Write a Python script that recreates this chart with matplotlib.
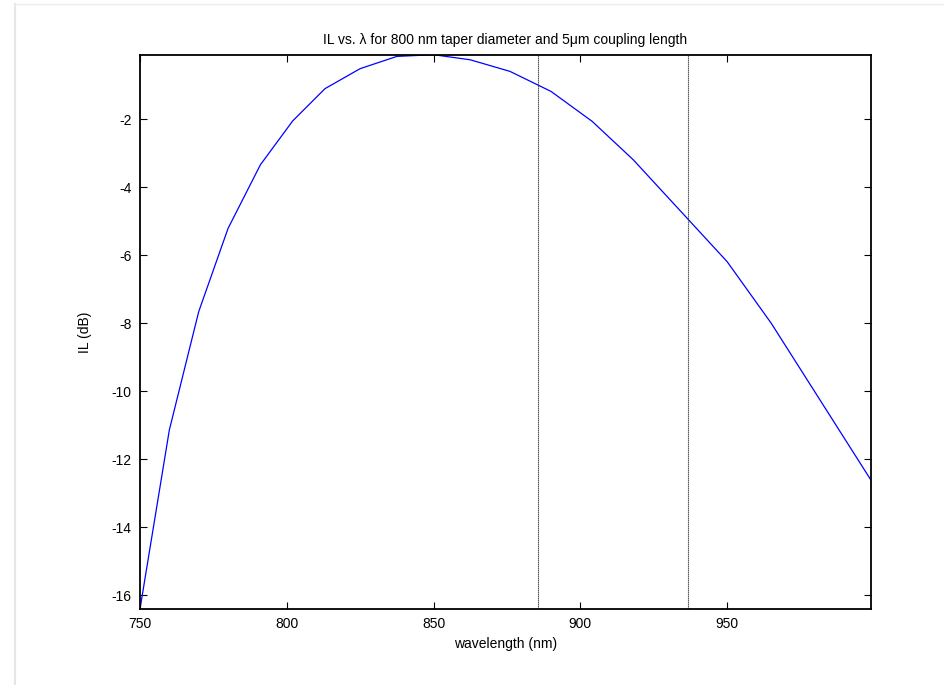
import matplotlib
matplotlib.use("Agg")
import matplotlib.pyplot as plt
from matplotlib.lines import Line2D

# Data
wavelength = [750, 760, 770, 780, 791, 802, 813, 825, 837.5, 850, 862.5,
              876, 890, 904, 918, 934, 950, 965, 982, 999]
il_db = [-16.41, -11.14, -7.66, -5.21, -3.34, -2.05, -1.10, -0.51, -0.15,
         -0.10, -0.25, -0.59, -1.18, -2.06, -3.19, -4.69, -6.19, -8.00,
         -10.31, -12.62]
vlines = [885.6, 936.6]
xticks = [750, 800, 850, 900, 950]
yticks = [-16, -14, -12, -10, -8, -6, -4, -2]

plt.rcParams['font.family'] = ['Liberation Sans', 'DejaVu Sans']
plt.rcParams['axes.unicode_minus'] = False

fig = plt.figure(figsize=(9.45, 6.85), dpi=100)
ax = fig.add_axes([140/945, 1-609/685, (871-140)/945, (609-54.7)/685])

ax.plot(wavelength, il_db, color='#0000ff', lw=0.9)
for v in vlines:
    ax.axvline(v, color='0.25', lw=0.8, ls=(0, (1.2, 0.6)))

ax.set_xlim(min(wavelength), max(wavelength))
ax.set_ylim(min(il_db), max(il_db))
ax.set_xticks(xticks)
ax.set_yticks(yticks)
ax.tick_params(direction='in', top=True, right=True, length=5, width=0.8,
               labelsize=10, colors='black', pad=6)
for s in ax.spines.values():
    s.set_linewidth(1.3)

ax.set_xlabel('wavelength (nm)', fontsize=10, labelpad=4)
ax.set_ylabel('IL (dB)', fontsize=10, labelpad=14)
ax.set_title('IL vs. λ for 800 nm taper diameter and 5μm coupling length',
             fontsize=10, pad=8)

# faint page border shadow
fig.add_artist(Line2D([15/945, 15/945], [0, 1-4/685], color='0.9', lw=1.5,
                      transform=fig.transFigure))
fig.add_artist(Line2D([15/945, 1], [1-4/685, 1-4/685], color='0.93', lw=1.0,
                      transform=fig.transFigure))

fig.savefig('out.png', dpi=100)
